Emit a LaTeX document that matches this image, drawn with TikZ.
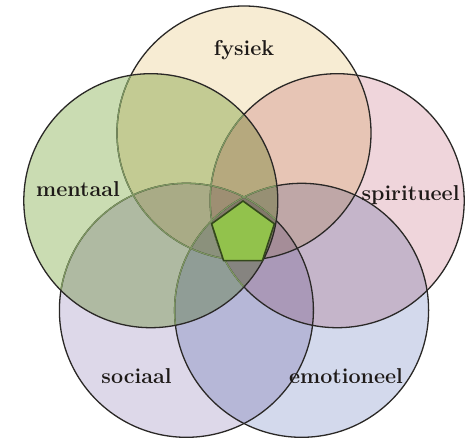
\documentclass[tikz,border=0pt]{standalone}
\usetikzlibrary{shapes.geometric}
\definecolor{fysiekC}{HTML}{F7ECD3}
\definecolor{mentaalC}{HTML}{CADCB2}
\definecolor{spiritC}{HTML}{EFD5DB}
\definecolor{sociaalC}{HTML}{DDD8E9}
\definecolor{emoC}{HTML}{D3D9EC}
\definecolor{rimC}{HTML}{2A2826}
\definecolor{underC}{HTML}{7E9762}
\definecolor{coreC}{HTML}{92C24C}
\definecolor{coreRim}{HTML}{34481C}
\definecolor{txtC}{HTML}{1E1A18}
\tikzset{
  rim/.style={draw=rimC, line width=1.3pt},
  underrim/.style={draw=underC, line width=1.3pt},
  lbl/.style={anchor=base, inner sep=0pt, text=txtC,
    font=\fontsize{21.5}{26}\selectfont\bfseries},
}
\begin{document}
\begin{tikzpicture}[x=1pt,y=-1pt]
\useasboundingbox (0,0) rectangle (468,441);
\fill[white] (0,0) rectangle (468,441);
\def\R{127pt}
\coordinate (F) at (244,133);
\coordinate (M) at (150.8,200.7);
\coordinate (S) at (337.2,200.7);
\coordinate (So) at (186.4,310.3);
\coordinate (E) at (301.6,310.3);
% fills (multiply)
\begin{scope}[blend mode=multiply]
  \fill[fysiekC] (F) circle[radius=\R];
  \fill[spiritC] (S) circle[radius=\R];
  \fill[emoC] (E) circle[radius=\R];
  \fill[sociaalC] (So) circle[radius=\R];
\end{scope}
% outlines of the lower circles
\path[rim] (F) circle[radius=\R];
\path[rim] (S) circle[radius=\R];
\path[rim] (E) circle[radius=\R];
\path[rim] (So) circle[radius=\R];
% mentaal on top
\begin{scope}[blend mode=multiply]
  \fill[mentaalC] (M) circle[radius=\R];
\end{scope}
\begin{scope}
  \clip (M) circle[radius=\R];
  \path[underrim] (F) circle[radius=\R];
  \path[underrim] (S) circle[radius=\R];
  \path[underrim] (E) circle[radius=\R];
  \path[underrim] (So) circle[radius=\R];
\end{scope}
\path[rim] (M) circle[radius=\R];
% core pentagon
\node[regular polygon, regular polygon sides=5, minimum size=66pt,
  inner sep=0pt, outer sep=0pt, fill=coreC, draw=coreRim, line width=1.6pt]
  (core) at (243,234) {};
% labels
\node[lbl] (lf) at (244,56) {fysiek};
\node[lbl] (lm) at (78,196) {mentaal};
\node[lbl] (ls) at (410.5,200) {spiritueel};
\node[lbl] (lso) at (136.5,383) {sociaal};
\node[lbl] (le) at (346,383) {emotioneel};
\end{tikzpicture}
\end{document}
